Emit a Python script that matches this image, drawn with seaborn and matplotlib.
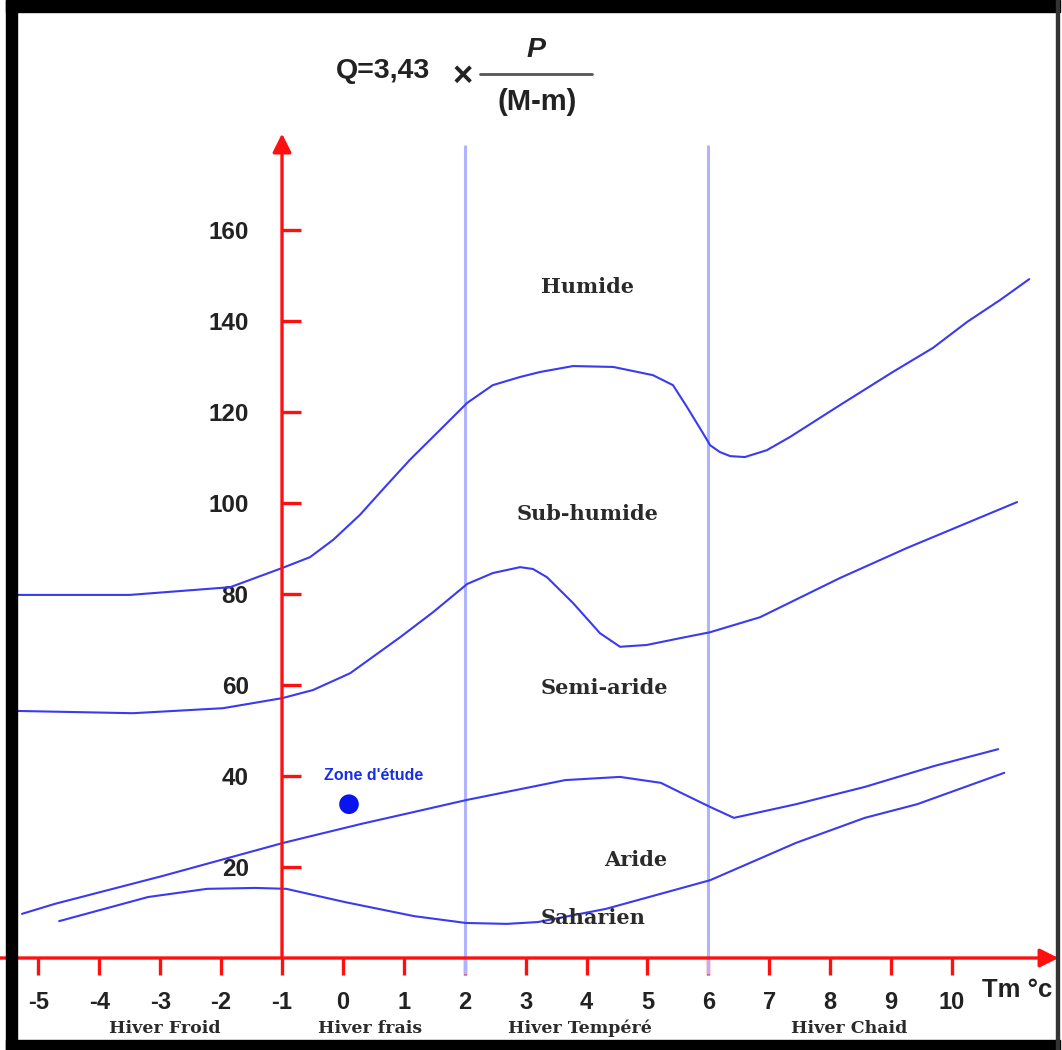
import numpy as np
import pandas as pd
import matplotlib
matplotlib.use("Agg")
import matplotlib.pyplot as plt
from matplotlib.patches import Rectangle
from matplotlib.lines import Line2D
import seaborn as sns

# Emberger boundaries (Tm in °C, Q)
humide_tm = [-5.35, -3.50, -1.85, -1.00, -0.54, -0.16, 0.28, 0.69, 1.10, 1.59, 2.04, 2.46,
             2.91, 3.24, 3.78, 4.44, 5.09, 5.42, 5.65, 5.91, 6.03, 6.19, 6.36, 6.60, 6.96,
             7.34, 8.16, 9.03, 9.69, 10.25, 10.79, 11.27]
humide_q = [79.8, 79.8, 81.5, 85.7, 88.1, 91.9, 97.4, 103.5, 109.5, 116.0, 122.0, 125.9,
            127.7, 128.8, 130.1, 129.9, 128.1, 125.9, 121.1, 115.4, 112.7, 111.2, 110.3, 110.1,
            111.6, 114.5, 121.5, 128.8, 134.1, 139.8, 144.6, 149.2]

subhum_tm = [-5.35, -3.45, -1.97, -1.00, -0.49, 0.12, 0.94, 1.48, 2.04, 2.46, 2.91, 3.12,
             3.35, 3.78, 4.22, 4.55, 4.99, 5.54, 6.03, 6.85, 8.16, 9.26, 11.07]
subhum_q = [54.3, 53.8, 54.9, 57.1, 58.9, 62.6, 70.5, 76.0, 82.2, 84.6, 85.9, 85.5,
            83.7, 78.0, 71.4, 68.4, 68.8, 70.3, 71.6, 74.9, 83.5, 90.1, 100.2]

semiar_tm = [-5.27, -4.73, -2.97, -0.98, 0.31, 1.17, 2.02, 2.91, 3.65, 4.55, 5.22, 5.63,
             6.03, 6.42, 7.44, 8.57, 9.71, 10.76]
semiar_q = [9.7, 11.9, 18.0, 25.3, 29.5, 32.1, 34.7, 37.1, 39.1, 39.8, 38.5, 35.8,
            33.2, 30.8, 33.8, 37.6, 42.2, 45.9]

aride_tm = [-4.66, -3.20, -2.23, -1.44, -0.93, 0.03, 1.17, 2.02, 2.69, 3.20, 4.32, 6.03,
            7.44, 8.57, 9.43, 10.86]
aride_q = [8.1, 13.4, 15.2, 15.4, 15.2, 12.3, 9.2, 7.7, 7.5, 7.9, 10.8, 17.1,
           25.3, 30.8, 33.8, 40.7]

zone_tm = [0.10]
zone_q = [33.8]

x_ticks = list(range(-5, 11))
y_ticks = [20, 40, 60, 80, 100, 120, 140, 160]
winter_labels = ["Hiver Froid", "Hiver frais", "Hiver Tempéré", "Hiver Chaid"]
winter_pos = [-2.92, 0.45, 3.90, 8.31]
zone_labels = ["Humide", "Sub-humide", "Semi-aride", "Aride", "Saharien"]
zone_label_tm = [4.02, 4.02, 4.30, 4.80, 4.11]
zone_label_q = [147.5, 97.6, 59.3, 21.5, 8.8]

frames = []
for name, tm, q in [("humide", humide_tm, humide_q), ("subhumide", subhum_tm, subhum_q),
                    ("semiaride", semiar_tm, semiar_q), ("aride", aride_tm, aride_q)]:
    frames.append(pd.DataFrame({"Tm": tm, "Q": q, "courbe": name}))
curves = pd.concat(frames, ignore_index=True)

sns.set_style("white")
plt.rcParams['font.family'] = ['Liberation Sans', 'DejaVu Sans']

red = "#ff1010"
blue = "#3a3af0"
ink = "#222222"

fig = plt.figure(figsize=(10.62, 10.50), dpi=100)
ax = fig.add_axes([0, 0, 1, 1])
ax.set_xlim(-5.631, 11.808)
ax.set_ylim(-20.22, 210.55)

# climate-zone boundaries
sns.lineplot(data=curves, x="Tm", y="Q", units="courbe", estimator=None, sort=False,
             color=blue, lw=1.5, ax=ax, legend=False, zorder=3,
             solid_joinstyle="round", solid_capstyle="round")

# winter-type separators
ax.vlines([2, 6], -3.5, 178.7, color="#b0b4ff", lw=2.2, zorder=2)

# study site
sns.scatterplot(x=zone_tm, y=zone_q, color="#0a14f0", s=200, edgecolor="none", ax=ax, zorder=5)
ax.text(0.51, 40.0, "Zone d'étude", color="#1a2ee8", fontsize=11.5, fontweight="bold",
        ha="center", va="center")

# axes with arrows
for s in ax.spines.values():
    s.set_visible(False)
ax.spines["left"].set_position(("data", -1))
ax.spines["bottom"].set_position(("data", 0))
arrow = dict(arrowstyle="-|>", color=red, lw=2.4, mutation_scale=28, shrinkA=0, shrinkB=0)
ax.annotate("", xy=(-1, 181.2), xytext=(-1, 0), arrowprops=arrow, zorder=4)
ax.annotate("", xy=(11.75, 0), xytext=(-5.7, 0), arrowprops=arrow, zorder=4)

ax.set_xticks(x_ticks)
ax.set_xticklabels([str(t) for t in x_ticks])
ax.set_yticks(y_ticks)
ax.set_yticklabels([str(t) for t in y_ticks])
ax.tick_params(axis="x", direction="out", length=12, width=2.4, color=red, pad=12,
               labelsize=17, labelcolor=ink, bottom=True)
ax.tick_params(axis="y", direction="in", length=14, width=2.4, color=red, pad=24,
               labelsize=17.5, labelcolor=ink, left=True)
for lab in ax.get_xticklabels() + ax.get_yticklabels():
    lab.set_fontweight("bold")
ax.set_xlabel("")
ax.set_ylabel("")

ax.text(11.07, -7.0, "Tm °c", fontsize=18.5, fontweight="bold", color=ink,
        ha="center", va="center")

serif = ["DejaVu Serif"]
for lab, tx, qy in zip(zone_labels, zone_label_tm, zone_label_q):
    ax.text(tx, qy, lab, family=serif, fontsize=15, fontweight="bold", color="#2a2a2a",
            ha="center", va="center")
for lab, tx in zip(winter_labels, winter_pos):
    ax.text(tx, -15.4, lab, family=serif, fontsize=12.5, fontweight="bold", color="#2a2a2a",
            ha="center", va="center")

# Emberger quotient formula
W, H = 1062, 1050
fig.text(383 / W, 1 - 71 / H, "Q=3,43", fontsize=20.5, fontweight="bold", color=ink,
         ha="center", va="center")
fig.text(463 / W, 1 - 76 / H, "×", fontsize=25, fontweight="bold", color=ink,
         ha="center", va="center")
fig.text(536 / W, 1 - 50 / H, "P", fontsize=20.5, fontweight="bold", style="italic",
         color=ink, ha="center", va="center")
fig.add_artist(Line2D([480 / W, 592 / W], [1 - 74 / H, 1 - 74 / H], lw=2, color="#555555"))
fig.text(537 / W, 1 - 102 / H, "(M-m)", fontsize=21, fontweight="bold", color=ink,
         ha="center", va="center")

# picture frame
for x0, y0, w, h, c in [(6, 1038, 1054, 12, "black"), (6, 0, 11, 1050, "black"),
                        (6, 0, 1054, 10, "black"), (1056, 0, 3, 1050, "#333333")]:
    fig.add_artist(Rectangle((x0 / W, y0 / H), w / W, h / H, transform=fig.transFigure,
                             color=c, zorder=10))

fig.savefig("out.png", dpi=100)
